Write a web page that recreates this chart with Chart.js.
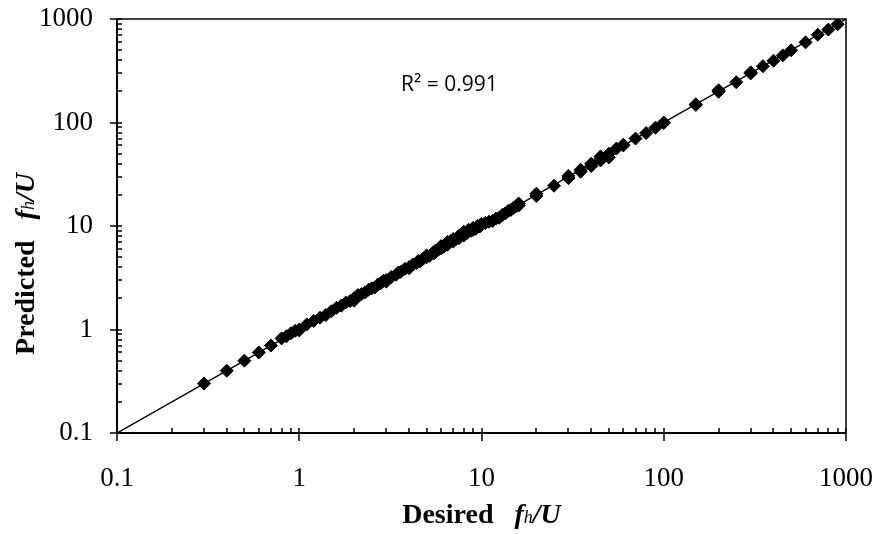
<!DOCTYPE html>
<html>
<head>
<meta charset="utf-8">
<script src="https://cdn.jsdelivr.net/npm/chart.js@4/dist/chart.umd.min.js"></script>
<style>
  html, body { margin: 0; padding: 0; background: #fff; }
  #wrap { width: 879px; height: 534px; }
</style>
</head>
<body>
<div id="wrap"><canvas id="chart"></canvas></div>
<script>
// Desired vs predicted fh/U
const desired = [
  0.3, 0.4, 0.5, 0.6, 0.7, 0.8, 0.85, 0.9, 0.95, 1.0, 1.0,
  1.1, 1.2, 1.3, 1.4, 1.5, 1.6, 1.7, 1.8, 1.9, 2.0, 2.0,
  2.1, 2.2, 2.3, 2.4, 2.5, 2.6, 2.7, 2.8, 2.9, 3.0, 3.0,
  3.2, 3.4, 3.5, 3.6, 3.8, 4.0, 4.0, 4.2, 4.4, 4.5, 4.6, 4.8,
  5.0, 5.0, 5.2, 5.4, 5.5, 5.6, 5.8, 6.0, 6.0, 6.2, 6.5, 6.5,
  6.8, 7.0, 7.0, 7.2, 7.5, 7.5, 7.8, 8.0, 8.0, 8.3, 8.5, 8.8,
  9.0, 9.0, 9.3, 9.5, 9.8, 10.0, 10.0, 10.5, 11.0, 11.5, 12.0,
  12.5, 13.0, 13.5, 14.0, 14.5, 15.0, 15.5, 16.0, 16.0,
  20, 20, 25, 30, 30, 35, 35, 40, 40, 45, 45, 45, 50, 50,
  55, 60, 60, 70, 80, 90, 100, 100, 150, 150, 200, 200,
  250, 300, 300, 350, 400, 450, 500, 600, 700, 800, 900
];
const predicted = [
  0.3, 0.4, 0.5, 0.6, 0.7, 0.82, 0.86, 0.92, 0.97, 1.0, 0.98,
  1.12, 1.21, 1.3, 1.38, 1.5, 1.62, 1.7, 1.82, 1.88, 2.0, 1.9,
  2.15, 2.2, 2.28, 2.42, 2.5, 2.55, 2.72, 2.8, 2.95, 3.0, 2.9,
  3.22, 3.38, 3.55, 3.6, 3.85, 4.0, 3.9, 4.25, 4.4, 4.6, 4.55, 4.85,
  5.0, 5.2, 5.15, 5.5, 5.45, 5.8, 5.9, 6.1, 6.4, 6.3, 6.6, 7.0,
  7.2, 7.1, 7.5, 7.4, 8.0, 7.6, 8.3, 8.1, 8.8, 8.5, 9.2, 9.0,
  9.6, 9.2, 9.4, 10.0, 9.9, 10.2, 10.5, 10.7, 11.0, 11.2, 11.8,
  12.0, 12.8, 13.2, 14.0, 14.3, 15.0, 15.6, 16.5, 15.8,
  19.5, 20.5, 24.5, 29, 30.5, 35, 33.5, 38, 40, 45, 47, 43, 50, 46,
  56, 60, 61, 70, 79, 89, 100, 99, 150, 148, 198, 205,
  245, 298, 305, 350, 395, 445, 498, 595, 705, 790, 890
];
// fitted line y = x across the full axis range
const trendX = [0.1, 1000];
const trendY = [0.1, 1000];

const tickValues = [0.1, 1, 10, 100, 1000];
const tickLabels = ['0.1', '1', '10', '100', '1000'];
const r2Text = 'R\u00B2 = 0.991';

const serif = '"Liberation Serif", "Times New Roman", serif';

// minor tick positions 2..9 within each decade
const minorTicks = [];
tickValues.slice(0, -1).forEach(d => {
  for (let k = 2; k <= 9; k++) minorTicks.push(d * k);
});

function drawRich(ctx, parts, x, y, rotate) {
  ctx.save();
  ctx.translate(x, y);
  if (rotate) ctx.rotate(-Math.PI / 2);
  let total = 0;
  parts.forEach(p => { ctx.font = p.font; p.w = ctx.measureText(p.text).width; total += p.w; });
  let cx = -total / 2;
  ctx.fillStyle = '#000';
  ctx.textBaseline = 'alphabetic';
  ctx.textAlign = 'left';
  parts.forEach(p => { ctx.font = p.font; ctx.fillText(p.text, cx, 0); cx += p.w; });
  ctx.restore();
}

function titleParts(word) {
  return [
    { text: word + '   ', font: 'bold 28px ' + serif },
    { text: 'f', font: 'italic bold 28px ' + serif },
    { text: 'h', font: 'italic 18px ' + serif },
    { text: '/U', font: 'italic bold 28px ' + serif }
  ];
}

const frameAndTicks = {
  id: 'frameAndTicks',
  afterDraw(chart) {
    const { ctx, chartArea: a, scales } = chart;
    const xs = scales.x, ys = scales.y;
    ctx.save();
    ctx.strokeStyle = '#000';
    // plot border
    ctx.lineWidth = 1.5;
    ctx.beginPath();
    ctx.moveTo(a.left, a.top); ctx.lineTo(a.right, a.top); ctx.lineTo(a.right, a.bottom);
    ctx.stroke();
    ctx.lineWidth = 2;
    ctx.beginPath();
    ctx.moveTo(a.left, a.top); ctx.lineTo(a.left, a.bottom); ctx.lineTo(a.right, a.bottom);
    ctx.stroke();
    // ticks
    ctx.lineWidth = 1.5;
    ctx.beginPath();
    tickValues.forEach(v => {
      const px = Math.round(xs.getPixelForValue(v));
      ctx.moveTo(px, a.bottom - 5); ctx.lineTo(px, a.bottom + 8);
      const py = Math.round(ys.getPixelForValue(v));
      ctx.moveTo(a.left - 7, py); ctx.lineTo(a.left + 5, py);
    });
    minorTicks.forEach(v => {
      const px = Math.round(xs.getPixelForValue(v));
      ctx.moveTo(px, a.bottom); ctx.lineTo(px, a.bottom - 5);
      const py = Math.round(ys.getPixelForValue(v));
      ctx.moveTo(a.left, py); ctx.lineTo(a.left + 5, py);
    });
    ctx.stroke();

    // axis titles
    drawRich(ctx, titleParts('Desired'), (a.left + a.right) / 2, 523, false);
    drawRich(ctx, titleParts('Predicted'), 34, 264, true);

    // R squared label
    ctx.font = '21px "Open Sans", sans-serif';
    ctx.fillStyle = '#000';
    ctx.textAlign = 'left';
    ctx.textBaseline = 'alphabetic';
    ctx.fillText(r2Text, a.left + 284, a.top + 72);
    ctx.restore();
  }
};

const ctx = document.getElementById('chart').getContext('2d');

new Chart(ctx, {
  type: 'scatter',
  data: {
    datasets: [
      {
        label: 'fit',
        type: 'line',
        data: trendX.map((x, i) => ({ x: x, y: trendY[i] })),
        borderColor: '#000',
        borderWidth: 1.5,
        pointRadius: 0,
        fill: false,
        order: 1
      },
      {
        label: 'data',
        data: desired.map((x, i) => ({ x: x, y: predicted[i] })),
        pointStyle: 'rectRot',
        pointRadius: 6.5,
        backgroundColor: '#000',
        borderColor: '#000',
        borderWidth: 1,
        order: 2
      }
    ]
  },
  options: {
    responsive: true,
    maintainAspectRatio: false,
    animation: false,
    layout: { padding: { left: 0, top: 19, right: 33, bottom: 0 } },
    plugins: {
      legend: { display: false },
      tooltip: { enabled: false }
    },
    scales: {
      x: {
        type: 'logarithmic',
        min: 0.1,
        max: 1000,
        grid: { display: false, drawTicks: false, tickLength: 0 },
        border: { display: false },
        afterBuildTicks: s => { s.ticks = tickValues.map(v => ({ value: v })); },
        afterFit: s => { s.height = 101; s.paddingLeft = 0; s.paddingRight = 0; },
        ticks: {
          autoSkip: false,
          maxRotation: 0,
          padding: 30,
          color: '#000',
          font: { family: serif, size: 27 },
          callback: (v, i) => tickLabels[i]
        }
      },
      y: {
        type: 'logarithmic',
        min: 0.1,
        max: 1000,
        grid: { display: false, drawTicks: false, tickLength: 0 },
        border: { display: false },
        afterBuildTicks: s => { s.ticks = tickValues.map(v => ({ value: v })); },
        afterFit: s => { s.width = 117; s.paddingTop = 0; s.paddingBottom = 0; },
        ticks: {
          autoSkip: false,
          padding: 24,
          color: '#000',
          font: { family: serif, size: 27 },
          callback: (v, i) => tickLabels[i]
        }
      }
    }
  },
  plugins: [frameAndTicks]
});
</script>
</body>
</html>
